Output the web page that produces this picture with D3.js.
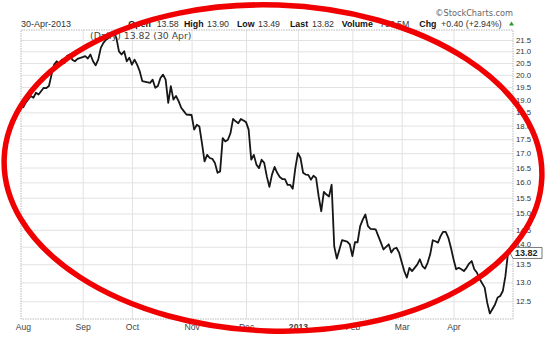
<!DOCTYPE html>
<html>
<head>
<meta charset="utf-8">
<script src="https://cdn.jsdelivr.net/npm/d3@7"></script>
<style>
  body { margin: 0; background: #fff; }
  svg { display: block; }
</style>
</head>
<body>
<div id="chart"></div>
<script>
// trading-day index (0 = 1 Aug 2012) and daily close
var days = [0, 1, 3, 4, 5, 6, 8, 9, 10, 11, 12, 13, 14, 15, 16, 17, 18, 19, 20, 21,
  23, 24, 25, 26, 27, 28, 29, 30, 31, 32, 33, 34, 35, 36, 37, 38, 39, 40, 41, 42,
  43, 44, 45, 46, 49, 50, 51, 52, 53, 54, 55, 56, 57, 58, 59, 60, 61, 62, 63, 64,
  65, 66, 67, 68, 69, 70, 71, 72, 73, 74, 75, 76, 77, 78, 79, 80, 81, 82, 83, 84,
  85, 86, 87, 88, 89, 90, 91, 92, 93, 94, 95, 96, 97, 98, 99, 100, 101, 102, 103, 104,
  105, 106, 107, 108, 109, 110, 111, 112, 113, 114, 115, 116, 117, 118, 119, 120, 121, 122, 123, 125,
  126, 127, 128, 129, 130, 131, 132, 133, 134, 136, 137, 138, 139, 141, 142, 143, 144, 145, 146, 147,
  148, 149, 150, 151, 152, 153, 154, 155, 156, 157, 158, 159, 160, 161, 162, 163, 164, 165, 166, 167,
  168, 169, 170, 171, 172, 173, 174, 175, 176, 178, 179, 180, 182, 183, 184, 185, 186, 187];

var closes = [18.68, 18.87, 19.14, 19.07, 19.27, 19.20, 19.47, 19.46, 19.54, 20.01, 20.43, 20.57, 20.43, 20.64, 20.50, 20.81, 20.86, 20.64, 20.57, 20.67,
  20.75, 20.79, 20.69, 20.86, 20.57, 20.40, 20.64, 21.15, 21.37, 21.51, 21.59, 21.68, 21.81, 21.59, 21.00, 20.86, 21.00, 20.57, 20.72, 20.43,
  20.64, 20.43, 20.15, 19.74, 19.67, 19.80, 19.47, 19.54, 19.87, 20.01, 19.80, 18.87, 19.54, 19.00, 19.14, 18.94, 18.68, 18.55, 18.42, 18.41,
  18.40, 17.85, 18.03, 17.97, 17.36, 16.71, 16.94, 16.83, 16.80, 16.66, 16.32, 16.37, 17.54, 17.42, 17.48, 17.72, 18.25, 18.16, 18.09, 18.25,
  18.19, 18.13, 17.85, 16.77, 16.94, 16.60, 16.48, 16.77, 16.66, 16.20, 15.85, 16.26, 16.52, 16.32, 16.18, 16.11, 16.11, 15.92, 15.92, 15.79,
  16.48, 17.00, 16.83, 16.32, 16.26, 16.25, 16.09, 16.22, 16.15, 15.54, 15.07, 15.69, 15.60, 15.54, 15.92, 14.01, 13.66, 13.92, 14.19, 14.15,
  14.07, 13.73, 14.13, 14.13, 14.61, 14.81, 14.97, 14.61, 14.53, 14.51, 14.31, 14.12, 13.92, 14.07, 13.83, 13.94, 13.97, 13.83, 13.56, 13.31,
  13.13, 13.40, 13.31, 13.40, 13.49, 13.64, 13.45, 13.38, 13.54, 13.78, 14.19, 14.16, 14.12, 14.31, 14.44, 14.44, 14.26, 13.97, 13.64, 13.36,
  13.40, 13.36, 13.31, 13.40, 13.52, 13.59, 13.36, 13.27, 13.10, 12.86, 12.46, 12.19, 12.42, 12.60, 12.64, 12.77, 13.17, 13.82];

var monthLabels = ["Aug", "Sep", "Oct", "Nov", "Dec", "2013", "Feb", "Mar", "Apr"];
var monthStartDays = [0, 23, 42, 65, 86, 106, 127, 146, 166];
var yTicks = [12.5, 13, 13.5, 14, 14.5, 15, 15.5, 16, 16.5, 17, 17.5, 18, 18.5, 19, 19.5, 20, 20.5, 21, 21.5];

var lastClose = 13.82;
var lastDay = 187;

var svgWidth = 560;
var svgHeight = 337;

var margin = { top: 30, right: 47, bottom: 18, left: 21 };
var width = svgWidth - margin.left - margin.right;   // 492
var height = svgHeight - margin.top - margin.bottom; // 289

var svg = d3.select("#chart")
  .append("svg")
  .attr("width", svgWidth)
  .attr("height", svgHeight)
  .style("font-family", "'Liberation Sans', Arial, sans-serif");

var chartGroup = svg.append("g")
  .attr("transform", `translate(${margin.left}, ${margin.top})`);

// scales
var xScale = d3.scaleLinear()
  .domain([0, lastDay])
  .range([2, width - 5]);

var yScale = d3.scaleLog()
  .domain([12.05, 21.95])
  .range([height, 0]);

// grid lines
chartGroup.append("g")
  .call(d3.axisLeft(yScale).tickValues(yTicks).tickSize(-width).tickFormat(""))
  .call(g => g.select(".domain").remove())
  .call(g => g.selectAll("line").attr("stroke", "#e2e2e2"));

chartGroup.append("g")
  .call(d3.axisBottom(xScale).tickValues(monthStartDays.slice(1)).tickSize(height).tickFormat(""))
  .call(g => g.select(".domain").remove())
  .call(g => g.selectAll("line").attr("stroke", "#e2e2e2"));

// frame
chartGroup.append("rect")
  .attr("width", width)
  .attr("height", height)
  .attr("fill", "none")
  .attr("stroke", "#b8b8b8")
  .attr("stroke-dasharray", "1.5,1");

// price line
var line = d3.line()
  .x((d, i) => xScale(days[i]))
  .y(d => yScale(d));

chartGroup.append("path")
  .datum(closes)
  .attr("fill", "none")
  .attr("stroke", "#161616")
  .attr("stroke-width", 1.8)
  .attr("stroke-linejoin", "round")
  .attr("d", line);

// y axis labels on the right (14.0 sits just above the last-value tag)
chartGroup.append("g")
  .attr("transform", `translate(${width}, 0)`)
  .call(d3.axisRight(yScale).tickValues(yTicks).tickSize(0).tickPadding(3).tickFormat(d3.format(".1f")))
  .call(g => g.select(".domain").remove())
  .call(g => g.selectAll("text")
    .style("font-family", "'Liberation Sans', Arial, sans-serif")
    .style("font-size", "7.8px")
    .attr("fill", "#333")
    .attr("dy", d => d === 14 ? "-0.05em" : "0.32em"));

// x axis labels
chartGroup.append("g")
  .attr("transform", `translate(0, ${height})`)
  .call(d3.axisBottom(xScale).tickValues(monthStartDays).tickSize(0).tickPadding(5)
    .tickFormat((d, i) => monthLabels[i]))
  .call(g => g.select(".domain").remove())
  .call(g => g.selectAll("text")
    .style("font-family", "'Liberation Sans', Arial, sans-serif")
    .style("font-size", "8.6px")
    .style("font-weight", (d, i) => monthLabels[i] === "2013" ? "bold" : "normal")
    .attr("fill", "#444"));

// last value tag
var tagY = yScale(lastClose);
chartGroup.append("path")
  .attr("d", `M${width - 3},${tagY} L${width},${tagY - 5.5} L${width + 29},${tagY - 5.5} L${width + 29},${tagY + 5.5} L${width},${tagY + 5.5} Z`)
  .attr("fill", "#fff")
  .attr("stroke", "#555")
  .attr("stroke-width", 0.8);

chartGroup.append("text")
  .attr("x", width + 2)
  .attr("y", tagY + 3.3)
  .style("font-size", "9px")
  .style("font-weight", "bold")
  .attr("fill", "#222")
  .text(lastClose.toFixed(2));

// header
svg.append("text")
  .attr("x", 21)
  .attr("y", 27)
  .style("font-size", "9px")
  .attr("fill", "#333")
  .text("30-Apr-2013");

var header = [
  ["Open", 128.3, true], ["13.58", 156.7, false],
  ["High", 184, true], ["13.90", 207, false],
  ["Low", 237, true], ["13.49", 258, false],
  ["Last", 290, true], ["13.82", 312, false],
  ["Volume", 341.7, true], ["796.5M", 380, false],
  ["Chg", 419.3, true], ["+0.40 (+2.94%)", 441, false]
];

svg.selectAll(".hdr")
  .data(header)
  .enter()
  .append("text")
  .attr("class", "hdr")
  .attr("x", d => d[1])
  .attr("y", 27)
  .style("font-size", "8.8px")
  .style("font-weight", d => d[2] ? "bold" : "normal")
  .attr("fill", d => d[2] ? "#111" : "#333")
  .text(d => d[0]);

svg.append("path")
  .attr("d", "M509,25.5 L511.5,21.5 L514,25.5 Z")
  .attr("fill", "#2a9a2a");

svg.append("text")
  .attr("x", 513)
  .attr("y", 16)
  .attr("text-anchor", "end")
  .style("font-family", "'DejaVu Sans', Verdana, sans-serif")
  .style("font-size", "8.2px")
  .attr("fill", "#666")
  .text("\u00a9StockCharts.com");

svg.append("text")
  .attr("x", 90)
  .attr("y", 38.5)
  .style("font-family", "'DejaVu Sans', Verdana, sans-serif")
  .style("font-size", "9.3px")
  .attr("fill", "#444")
  .text("(Daily) 13.82 (30 Apr)");

// red annotation ellipse
svg.append("ellipse")
  .attr("cx", 273)
  .attr("cy", 168)
  .attr("rx", 269)
  .attr("ry", 163)
  .attr("transform", "rotate(2, 273, 168)")
  .attr("fill", "none")
  .attr("stroke", "#f00000")
  .attr("stroke-width", 5.5);
</script>
</body>
</html>
